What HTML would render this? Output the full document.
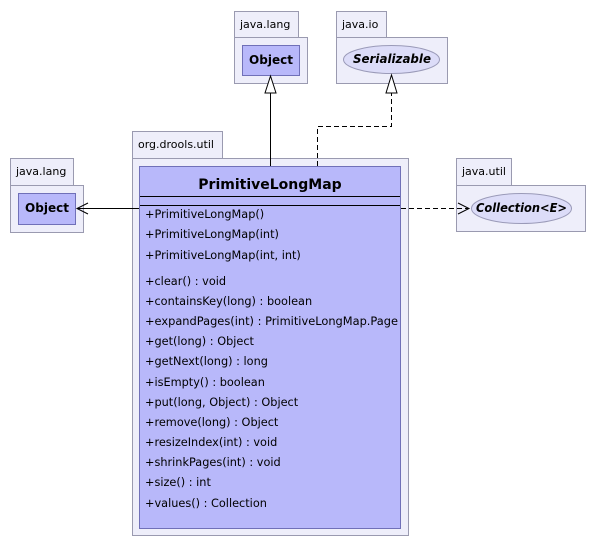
<!DOCTYPE html>
<html><head><meta charset="utf-8"><style>
html,body{margin:0;padding:0;background:#fff;width:598px;height:547px;overflow:hidden}
text{font-family:"DejaVu Sans","Liberation Sans",sans-serif;fill:#000}
</style></head><body>
<svg width="598" height="547" viewBox="0 0 598 547" xmlns="http://www.w3.org/2000/svg">
<g stroke="#9a9ab0" stroke-width="1" fill="#eeeefa">
<rect x="234.5" y="11.5" width="64" height="26"/>
<rect x="234.5" y="37.5" width="73" height="46"/>
<rect x="336.5" y="11.5" width="50" height="26"/>
<rect x="336.5" y="37.5" width="111" height="46"/>
<rect x="132.5" y="131.5" width="90" height="27"/>
<rect x="132.5" y="158.5" width="276" height="377"/>
<rect x="10.5" y="158.5" width="63" height="27"/>
<rect x="10.5" y="185.5" width="73" height="47"/>
<rect x="456.5" y="158.5" width="55" height="27"/>
<rect x="456.5" y="185.5" width="129" height="46"/>
</g>
<g stroke="#7070b8" stroke-width="1" fill="#b8b8fa">
<rect x="242.5" y="45.5" width="57" height="30"/>
<rect x="18.5" y="193.5" width="57" height="31"/>
<rect x="139.5" y="166.5" width="261" height="362"/>
</g>
<g stroke="#9a9ab8" fill="#dcdcf8">
<ellipse cx="391.5" cy="59.5" rx="48" ry="14"/>
<ellipse cx="521.5" cy="208.5" rx="50" ry="15"/>
</g>
<g stroke="#000" stroke-width="1" fill="none">
<line x1="140" y1="196.5" x2="400" y2="196.5"/>
<line x1="140" y1="205.5" x2="400" y2="205.5"/>
<line x1="270.5" y1="166" x2="270.5" y2="93"/>
<path d="M317.5 166 V126.5 H391.5 V93" stroke-dasharray="5,3"/>
<line x1="139" y1="208.5" x2="77" y2="208.5"/>
<path d="M88 203 L77 208.5 L88 214"/>
<line x1="401" y1="208.5" x2="469" y2="208.5" stroke-dasharray="5,3"/>
<path d="M458 203 L469 208.5 L458 214"/>
</g>
<g stroke="#000" fill="#fff">
<path d="M270.5 76 L265 93 L276 93 Z"/>
<path d="M391.5 75 L386 93 L397 93 Z"/>
</g>
<g font-size="11">
<text x="240" y="28">java.lang</text>
<text x="342" y="28">java.io</text>
<text x="138" y="148">org.drools.util</text>
<text x="16" y="175">java.lang</text>
<text x="462" y="175">java.util</text>
</g>
<g font-size="12" font-weight="bold">
<text x="249" y="64" textLength="44" lengthAdjust="spacingAndGlyphs">Object</text>
<text x="25" y="212" textLength="44" lengthAdjust="spacingAndGlyphs">Object</text>
<text x="353" y="63" font-style="italic" textLength="78" lengthAdjust="spacingAndGlyphs">Serializable</text>
<text x="476" y="212" font-style="italic" textLength="91" lengthAdjust="spacingAndGlyphs">Collection&lt;E&gt;</text>
</g>
<text x="270" y="189" text-anchor="middle" font-size="14" font-weight="bold">PrimitiveLongMap</text>
<g font-size="11.3">
<text x="145" y="218">+PrimitiveLongMap()</text>
<text x="145" y="238">+PrimitiveLongMap(int)</text>
<text x="145" y="259">+PrimitiveLongMap(int, int)</text>
<text x="145" y="285">+clear() : void</text>
<text x="145" y="305">+containsKey(long) : boolean</text>
<text x="145" y="325" textLength="253" lengthAdjust="spacingAndGlyphs">+expandPages(int) : PrimitiveLongMap.Page</text>
<text x="145" y="345">+get(long) : Object</text>
<text x="145" y="365">+getNext(long) : long</text>
<text x="145" y="386">+isEmpty() : boolean</text>
<text x="145" y="406">+put(long, Object) : Object</text>
<text x="145" y="426">+remove(long) : Object</text>
<text x="145" y="446">+resizeIndex(int) : void</text>
<text x="145" y="466">+shrinkPages(int) : void</text>
<text x="145" y="486">+size() : int</text>
<text x="145" y="507">+values() : Collection</text>
</g>
</svg>
</body></html>
